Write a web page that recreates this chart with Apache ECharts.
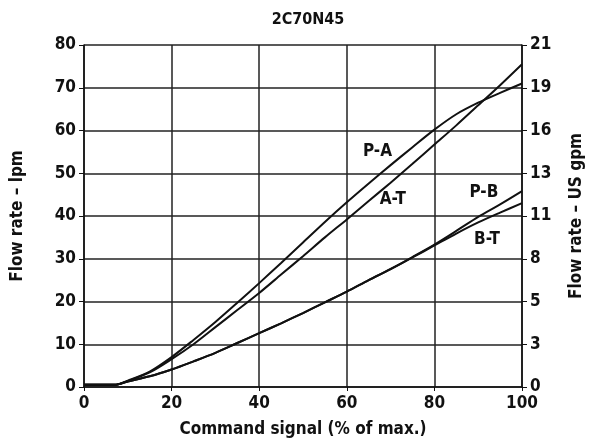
<!DOCTYPE html>
<html lang="en">
<head>
    <meta charset="UTF-8">
    <title>2C70N45</title>
    <script src="https://cdn.jsdelivr.net/npm/echarts@6/dist/echarts.min.js"></script>
    <style>
        body { margin: 0; background: #fff; }
    </style>
</head>
<body>
    <div id="graph" style="width: 593px; height: 447px;"></div>

    <script>
        // command signal (% of max.)
        var signal = [0, 7, 10, 15, 20, 25, 30, 35, 40, 45, 50, 55, 60, 65, 70, 75, 80, 85, 90, 95, 100];
        // flow rate, lpm
        var pA = [0.5, 0.5, 1.5, 3.6, 7.0, 11.0, 15.2, 19.7, 24.3, 29.0, 33.8, 38.6, 43.2, 47.6, 51.9, 56.1, 60.2, 63.8, 66.5, 68.8, 71.0];
        var aT = [0.5, 0.5, 1.4, 3.4, 6.5, 10.0, 14.0, 18.0, 22.0, 26.3, 30.6, 35.0, 39.2, 43.5, 47.8, 52.2, 56.7, 61.2, 65.9, 70.6, 75.5];
        var pB = [0.5, 0.5, 1.3, 2.5, 4.1, 6.0, 8.0, 10.3, 12.6, 14.9, 17.3, 19.8, 22.3, 25.0, 27.6, 30.4, 33.3, 36.5, 39.8, 42.7, 45.8];
        var bT = [0.5, 0.5, 1.3, 2.5, 4.1, 6.0, 8.0, 10.3, 12.6, 14.9, 17.3, 19.8, 22.3, 25.0, 27.6, 30.3, 33.1, 35.9, 38.5, 40.8, 43.0];
        var seriesNames = ['P-A', 'A-T', 'P-B', 'B-T'];
        // where each curve name sits [signal, lpm]
        var nameSpots = [[67, 55], [70.5, 43.8], [91.3, 45.4], [92, 34.5]];
        // right axis tick labels, US gpm
        var gpmLabels = ['0', '3', '5', '8', '11', '13', '16', '19', '21'];

        var font = '"Liberation Sans Narrow", "DejaVu Sans Condensed", sans-serif';

        function pairs(ys) {
            var out = [];
            for (var i = 0; i < signal.length; i++) out.push([signal[i], ys[i]]);
            return out;
        }

        var values = [pA, aT, pB, bT];
        var s = [];
        for (var i = 0; i < values.length; i++) {
            s.push({
                name: seriesNames[i],
                type: 'line',
                data: pairs(values[i]),
                smooth: 0.3,
                showSymbol: false,
                lineStyle: { color: '#111', width: 2 },
                markPoint: {
                    symbol: 'circle',
                    symbolSize: 0,
                    label: {
                        show: true,
                        formatter: seriesNames[i],
                        color: '#111',
                        fontFamily: font,
                        fontWeight: 'bold',
                        fontSize: 17
                    },
                    data: [{ coord: nameSpots[i] }]
                }
            });
        }

        var myChart = echarts.init(document.getElementById('graph'));
        var option = {
            animation: false,
            title: {
                text: '2C70N45',
                left: 303,
                top: 7,
                textAlign: 'center',
                textStyle: { fontFamily: font, fontWeight: 'bold', fontSize: 16, color: '#111' }
            },
            grid: { left: 84, right: 70, top: 45, bottom: 60 },
            xAxis: {
                type: 'value',
                min: 0, max: 100, interval: 20,
                name: 'Command signal (% of max.)',
                nameLocation: 'middle',
                nameGap: 34,
                nameTextStyle: { fontFamily: font, fontWeight: 'bold', fontSize: 17, color: '#111' },
                axisLine: { lineStyle: { color: '#111', width: 1.5 } },
                axisTick: { length: 4, lineStyle: { color: '#111' } },
                axisLabel: { fontFamily: font, fontWeight: 'bold', fontSize: 17, color: '#111', margin: 8 },
                splitLine: { lineStyle: { color: '#222', width: 1.5 } }
            },
            yAxis: [{
                type: 'value',
                min: 0, max: 80, interval: 10,
                name: 'Flow rate \u2013 lpm',
                nameLocation: 'middle',
                nameGap: 58,
                nameTextStyle: { fontFamily: font, fontWeight: 'bold', fontSize: 17, color: '#111' },
                axisLine: { show: true, lineStyle: { color: '#111', width: 1.5 } },
                axisTick: { show: true, length: 5, lineStyle: { color: '#111' } },
                axisLabel: { fontFamily: font, fontWeight: 'bold', fontSize: 17, color: '#111', margin: 8 },
                splitLine: { lineStyle: { color: '#222', width: 1.5 } }
            }, {
                type: 'value',
                position: 'right',
                min: 0, max: 80, interval: 10,
                name: 'Flow rate \u2013 US gpm',
                nameLocation: 'middle',
                nameGap: 46,
                nameRotate: 90,
                nameTextStyle: { fontFamily: font, fontWeight: 'bold', fontSize: 17, color: '#111' },
                axisLine: { show: true, lineStyle: { color: '#111', width: 1.5 } },
                axisTick: { show: true, length: 5, lineStyle: { color: '#111' } },
                axisLabel: {
                    fontFamily: font, fontWeight: 'bold', fontSize: 17, color: '#111', margin: 8,
                    formatter: function (v) { return gpmLabels[Math.round(v / 10)]; }
                },
                splitLine: { show: false }
            }],
            series: s
        };
        myChart.setOption(option);
    </script>
</body>
</html>
